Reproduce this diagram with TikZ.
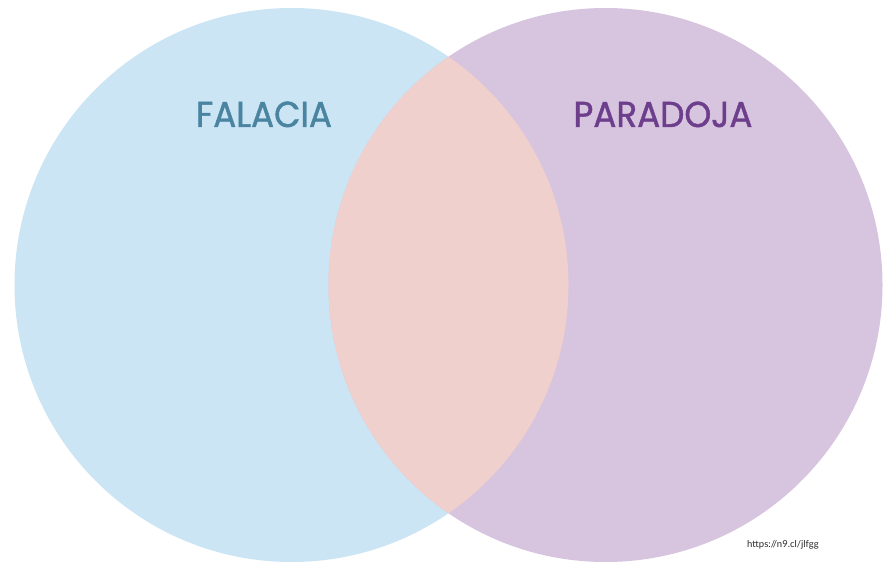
\documentclass[tikz,border=0pt]{standalone}
\usepackage{fontspec}
\setmainfont{Poppins}
\newfontfamily\labfont{Poppins}[FakeBold=1.3]
\newfontfamily\urlfont{Lato}
\definecolor{lblue}{RGB}{203,229,245}
\definecolor{lilac}{RGB}{215,196,222}
\definecolor{mixc}{RGB}{240,208,204}
\definecolor{tealtxt}{RGB}{74,132,160}
\definecolor{purptxt}{RGB}{108,62,140}
\tikzset{
  setlabel/.style={font=\labfont\fontsize{36}{40}\selectfont, inner sep=0pt, anchor=base, xscale=0.95, transform shape},
}
\begin{document}
\begin{tikzpicture}[x=1pt,y=-1pt]
\useasboundingbox (0,0) rectangle (892,567);
\fill[white] (0,0) rectangle (892,567);
\fill[lblue] (291.5,285) circle[radius=277];
\fill[lilac] (605.5,285) circle[radius=277];
\begin{scope}
  \clip (291.5,285) circle[radius=277];
  \fill[mixc] (605.5,285) circle[radius=277];
\end{scope}
\node[setlabel, text=tealtxt] (falacia) at (264,127) {FALACIA};
\node[setlabel, text=purptxt] (paradoja) at (663,127) {PARADOJA};
\node[font=\urlfont\fontsize{9.5}{11}\selectfont, text=black!85, inner sep=0pt] (url) at (783,545) {https://n9.cl/jlfgg};
\end{tikzpicture}
\end{document}
